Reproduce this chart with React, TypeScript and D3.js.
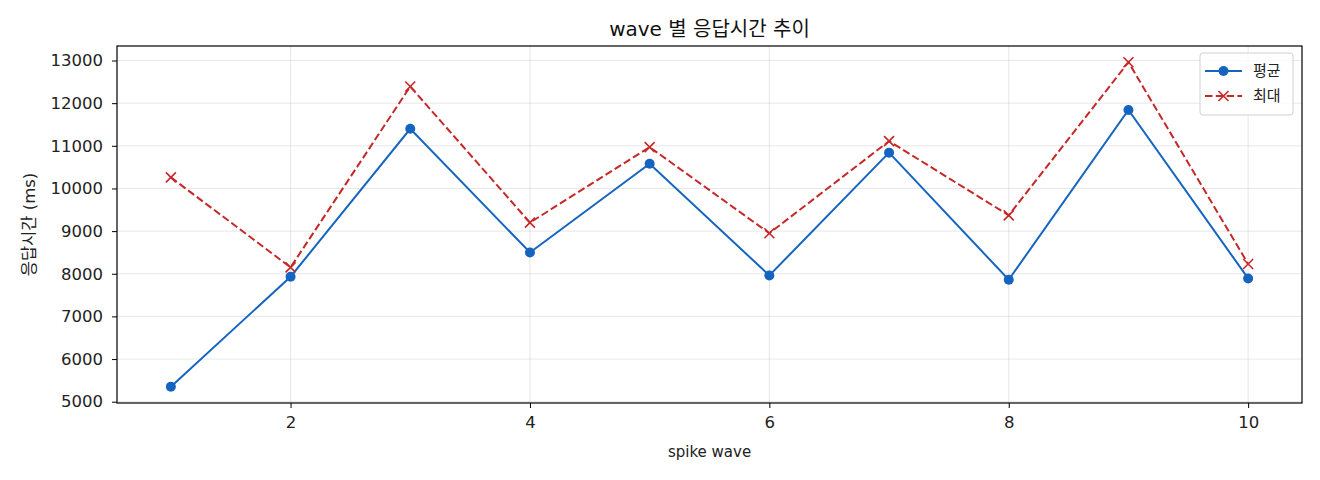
import * as d3 from "d3";
import React, { useEffect, useRef } from "react";

// spike wave 번호
const waves = [1, 2, 3, 4, 5, 6, 7, 8, 9, 10];
// 평균 응답시간 (ms)
const avgMs = [5350, 7930, 11400, 8500, 10580, 7960, 10840, 7860, 11840, 7890];
// 최대 응답시간 (ms)
const maxMs = [10260, 8150, 12390, 9200, 10970, 8950, 11110, 9370, 12960, 8230];

const xTicks = [2, 4, 6, 8, 10];
const yTicks = [5000, 6000, 7000, 8000, 9000, 10000, 11000, 12000, 13000];

const FONT = "'DejaVu Sans', 'Noto Sans CJK KR', sans-serif";
const BLUE = "#1565c0";
const RED = "#c62828";

const App: React.FC = () => {
  const svgRef = useRef<SVGSVGElement>(null);

  useEffect(() => {
    if (!svgRef.current) return;
    const width = 1320;
    const height = 480;
    const margin = { top: 46, right: 18, bottom: 77, left: 117 };
    const plotW = width - margin.left - margin.right;
    const plotH = height - margin.top - margin.bottom;

    const svg = d3.select(svgRef.current);
    svg.selectAll("*").remove();
    svg.attr("width", width).attr("height", height).style("font-family", FONT);

    svg.append("rect").attr("width", width).attr("height", height).attr("fill", "#fff");

    const g = svg.append("g").attr("transform", `translate(${margin.left},${margin.top})`);

    const allVals = [...avgMs, ...maxMs];
    const yMin = d3.min(allVals)!;
    const yMax = d3.max(allVals)!;
    const yPad = (yMax - yMin) * 0.05;
    const x = d3.scaleLinear().domain([0.55, 10.45]).range([0, plotW]);
    const y = d3.scaleLinear().domain([yMin - yPad, yMax + yPad]).range([plotH, 0]);

    // grid
    g.append("g")
      .selectAll("line")
      .data(yTicks)
      .join("line")
      .attr("x1", 0)
      .attr("x2", plotW)
      .attr("y1", (d) => y(d))
      .attr("y2", (d) => y(d))
      .attr("stroke", "#b0b0b0")
      .attr("stroke-opacity", 0.3)
      .attr("stroke-width", 1);
    g.append("g")
      .selectAll("line")
      .data(xTicks)
      .join("line")
      .attr("x1", (d) => x(d))
      .attr("x2", (d) => x(d))
      .attr("y1", 0)
      .attr("y2", plotH)
      .attr("stroke", "#b0b0b0")
      .attr("stroke-opacity", 0.3)
      .attr("stroke-width", 1);

    // axes
    const xAxis = g
      .append("g")
      .attr("transform", `translate(0,${plotH})`)
      .call(d3.axisBottom(x).tickValues(xTicks).tickSize(5).tickPadding(8).tickFormat(d3.format("d")));
    const yAxis = g
      .append("g")
      .call(d3.axisLeft(y).tickValues(yTicks).tickSize(5).tickPadding(9).tickFormat(d3.format("d")));
    [xAxis, yAxis].forEach((a) => {
      a.select(".domain").remove();
      a.selectAll("line").attr("stroke", "#000").attr("stroke-width", 1);
      a.selectAll("text").attr("fill", "#222").style("font-family", FONT).style("font-size", "16.5px");
    });

    // frame
    g.append("rect")
      .attr("width", plotW)
      .attr("height", plotH)
      .attr("fill", "none")
      .attr("stroke", "#000")
      .attr("stroke-width", 1.2);

    // lines
    const line = d3
      .line<number>()
      .x((_, i) => x(waves[i]))
      .y((d) => y(d));

    g.append("path")
      .datum(maxMs)
      .attr("d", line)
      .attr("fill", "none")
      .attr("stroke", RED)
      .attr("stroke-width", 2)
      .attr("stroke-dasharray", "7.5,3.3");

    g.append("path")
      .datum(avgMs)
      .attr("d", line)
      .attr("fill", "none")
      .attr("stroke", BLUE)
      .attr("stroke-width", 2);

    const xMark = (sel: any, s: number) =>
      sel
        .append("path")
        .attr("d", `M${-s},${-s}L${s},${s}M${-s},${s}L${s},${-s}`)
        .attr("stroke", RED)
        .attr("stroke-width", 1.6)
        .attr("fill", "none");

    maxMs.forEach((v, i) => {
      const m = g.append("g").attr("transform", `translate(${x(waves[i])},${y(v)})`);
      xMark(m, 5);
    });

    g.append("g")
      .selectAll("circle")
      .data(avgMs)
      .join("circle")
      .attr("cx", (_, i) => x(waves[i]))
      .attr("cy", (d) => y(d))
      .attr("r", 5)
      .attr("fill", BLUE);

    // title & labels
    svg
      .append("text")
      .attr("x", margin.left + plotW / 2)
      .attr("y", 36)
      .attr("text-anchor", "middle")
      .attr("fill", "#111")
      .style("font-size", "20px")
      .text("wave 별 응답시간 추이");

    svg
      .append("text")
      .attr("x", margin.left + plotW / 2)
      .attr("y", 457)
      .attr("text-anchor", "middle")
      .attr("fill", "#222")
      .style("font-size", "15px")
      .text("spike wave");

    svg
      .append("text")
      .attr("transform", `translate(35,${margin.top + plotH / 2}) rotate(-90)`)
      .attr("text-anchor", "middle")
      .attr("fill", "#222")
      .style("font-size", "16.5px")
      .text("응답시간 (ms)");

    // legend
    const lg = svg.append("g").attr("transform", "translate(1200,53)");
    lg.append("rect")
      .attr("width", 93)
      .attr("height", 62)
      .attr("rx", 3)
      .attr("fill", "#fff")
      .attr("fill-opacity", 0.8)
      .attr("stroke", "#d0d0d0")
      .attr("stroke-width", 1);

    const items = [
      { label: "평균", color: BLUE, dashed: false },
      { label: "최대", color: RED, dashed: true },
    ];
    items.forEach((it, i) => {
      const row = lg.append("g").attr("transform", `translate(0,${18 + i * 25})`);
      row.append("line")
        .attr("x1", 5)
        .attr("x2", 42)
        .attr("stroke", it.color)
        .attr("stroke-width", 2)
        .attr("stroke-dasharray", it.dashed ? "7.5,3.3" : null);
      if (it.dashed) {
        const m = row.append("g").attr("transform", "translate(23.5,0)");
        xMark(m, 5);
      } else {
        row.append("circle").attr("cx", 23.5).attr("r", 5).attr("fill", it.color);
      }
      row.append("text")
        .attr("x", 53)
        .attr("dy", "0.35em")
        .attr("fill", "#222")
        .style("font-size", "15px")
        .text(it.label);
    });
  }, []);

  return (
    <svg
      ref={svgRef}
      style={{ position: "absolute", left: 0, top: 0, display: "block" }}
    />
  );
};

export default App;
